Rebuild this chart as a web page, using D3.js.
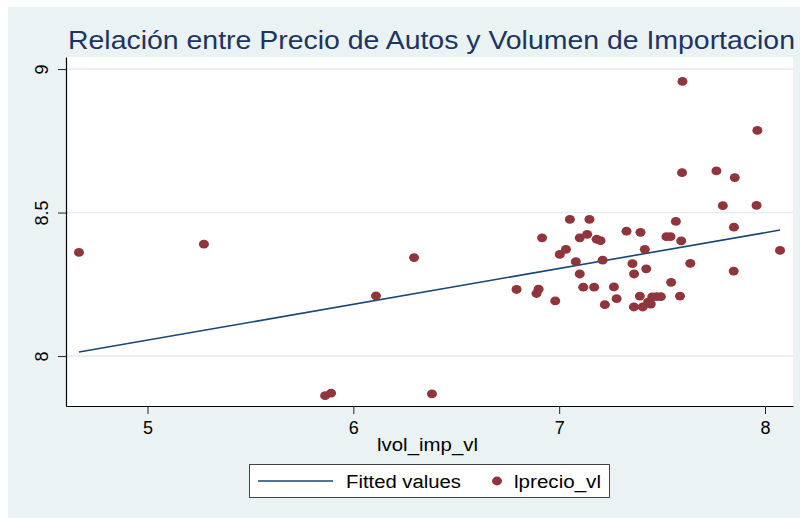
<!DOCTYPE html>
<html>
<head>
<meta charset="utf-8">
<script src="https://cdn.jsdelivr.net/npm/d3@7"></script>
<style>
  html, body { margin: 0; padding: 0; background: #ffffff; }
  svg { display: block; }
  text { font-family: "Liberation Sans", Arial, sans-serif; }
</style>
</head>
<body>
<svg id="chart" width="803" height="518"></svg>
<script>
// ---- data ----
const titleText = "Relación entre Precio de Autos y Volumen de Importacion";
const xTitle = "lvol_imp_vl";
const seriesNames = ["Fitted values", "lprecio_vl"];
const xTicks = [5, 6, 7, 8];
const yTicks = [8, 8.5, 9];
const yTickLabels = ["8", "8.5", "9"];

const lvolImp = [
  4.667, 5.274, 6.295, 6.110, 5.863, 5.892, 6.382, 6.793, 6.890, 6.900,
  6.981, 6.917, 7.003, 7.033, 7.052, 7.081, 7.100, 7.100, 7.117, 7.136,
  7.147, 7.170, 7.182, 7.201, 7.211, 7.222, 7.266, 7.279, 7.327, 7.356,
  7.364, 7.395, 7.416, 7.423, 7.521, 7.541, 7.544, 7.567, 7.587, 7.593,
  7.599, 7.597, 7.637, 7.764, 7.795, 7.849, 7.848, 7.853, 7.959, 7.963,
  8.073, 7.392, 7.363, 7.406, 7.432, 7.452, 7.473, 7.494, 7.445
];
const lprecio = [
  8.361, 8.390, 8.343, 8.210, 7.862, 7.871, 7.868, 8.232, 8.218, 8.233,
  8.192, 8.412, 8.354, 8.372, 8.476, 8.329, 8.412, 8.286, 8.240, 8.424,
  8.476, 8.240, 8.407, 8.402, 8.334, 8.179, 8.241, 8.200, 8.435, 8.322,
  8.286, 8.431, 8.372, 8.304, 8.416, 8.416, 8.257, 8.469, 8.209, 8.401,
  8.957, 8.639, 8.323, 8.645, 8.524, 8.449, 8.296, 8.622, 8.525, 8.786,
  8.368, 8.209, 8.171, 8.171, 8.188, 8.206, 8.207, 8.207, 8.181
];
const fitX = [4.667, 8.073];
const fitY = [8.014, 8.439];

// ---- layout ----
const svg = d3.select("#chart");
const colors = { bg: "#eaf2f3", line: "#1a476f", dot: "#90353b", title: "#1e3461", grid: "#e3ecef" };
const plot = { left: 66, right: 793, top: 57, bottom: 406 };

const x = d3.scaleLinear().domain([4.604, 8.136]).range([plot.left, plot.right]);
const y = d3.scaleLinear().domain([7.826, 9.042]).range([plot.bottom, plot.top]);

// outer background
svg.append("rect").attr("x", 8).attr("y", 7).attr("width", 792).attr("height", 511).attr("fill", colors.bg);
// plot region
svg.append("rect").attr("x", plot.left).attr("y", plot.top)
  .attr("width", plot.right - plot.left).attr("height", plot.bottom - plot.top).attr("fill", "#ffffff");

// grid lines
svg.append("g").selectAll("line").data(yTicks).join("line")
  .attr("x1", plot.left).attr("x2", plot.right)
  .attr("y1", d => y(d)).attr("y2", d => y(d))
  .attr("stroke", colors.grid).attr("stroke-width", 1.5);

// title
const title = svg.append("text")
  .attr("x", 68).attr("y", 49)
  .attr("fill", colors.title).attr("font-size", 25)
  .text(titleText);
title.attr("textLength", 727).attr("lengthAdjust", "spacingAndGlyphs");

// x axis
const gx = svg.append("g").attr("transform", `translate(0,${plot.bottom})`)
  .call(d3.axisBottom(x).tickValues(xTicks).tickSize(8).tickSizeOuter(0).tickFormat(d3.format("d")));
gx.select(".domain").attr("stroke", "#000").attr("stroke-width", 1.2);
gx.selectAll(".tick line").attr("stroke", "#222").attr("stroke-width", 1);
gx.selectAll(".tick text").attr("font-size", 18).attr("fill", "#000")
  .attr("y", 28).attr("dy", 0).attr("font-family", "'Liberation Sans', Arial, sans-serif");

// y axis
const gy = svg.append("g").attr("transform", `translate(${plot.left},0)`)
  .call(d3.axisLeft(y).tickValues(yTicks).tickSize(8).tickSizeOuter(0).tickFormat((d, i) => yTickLabels[i]));
gy.select(".domain").attr("stroke", "#000").attr("stroke-width", 1.2);
gy.selectAll(".tick line").attr("stroke", "#222").attr("stroke-width", 1);
gy.selectAll(".tick text")
  .attr("font-size", 18).attr("fill", "#000")
  .attr("x", 0).attr("dy", 0).attr("y", 0)
  .attr("text-anchor", "middle")
  .attr("transform", "translate(-18,0) rotate(-90)")
  .attr("font-family", "'Liberation Sans', Arial, sans-serif");

// x axis title
svg.append("text").attr("x", 427.5).attr("y", 451).attr("text-anchor", "middle")
  .attr("font-size", 18).attr("fill", "#000")
  .attr("textLength", 101).attr("lengthAdjust", "spacingAndGlyphs")
  .text(xTitle);

// fitted line
svg.append("path")
  .datum(d3.zip(fitX, fitY))
  .attr("d", d3.line().x(d => x(d[0])).y(d => y(d[1])))
  .attr("fill", "none").attr("stroke", colors.line).attr("stroke-width", 1.6);

// scatter points
svg.append("g").selectAll("ellipse").data(d3.zip(lvolImp, lprecio)).join("ellipse")
  .attr("cx", d => x(d[0])).attr("cy", d => y(d[1]))
  .attr("rx", 5).attr("ry", 4.4)
  .attr("fill", colors.dot);

// legend
const lg = svg.append("g");
lg.append("rect").attr("x", 249.5).attr("y", 464.5).attr("width", 360).attr("height", 33)
  .attr("fill", "#fff").attr("stroke", "#444").attr("stroke-width", 1);
lg.append("line").attr("x1", 258).attr("x2", 333).attr("y1", 481).attr("y2", 481)
  .attr("stroke", colors.line).attr("stroke-width", 1.6);
lg.append("text").attr("x", 346).attr("y", 488).attr("font-size", 18).attr("fill", "#000")
  .attr("textLength", 115).attr("lengthAdjust", "spacingAndGlyphs").text(seriesNames[0]);
lg.append("ellipse").attr("cx", 497).attr("cy", 481).attr("rx", 5).attr("ry", 4.4).attr("fill", colors.dot);
lg.append("text").attr("x", 514).attr("y", 488).attr("font-size", 18).attr("fill", "#000")
  .attr("textLength", 87).attr("lengthAdjust", "spacingAndGlyphs").text(seriesNames[1]);
</script>
</body>
</html>
